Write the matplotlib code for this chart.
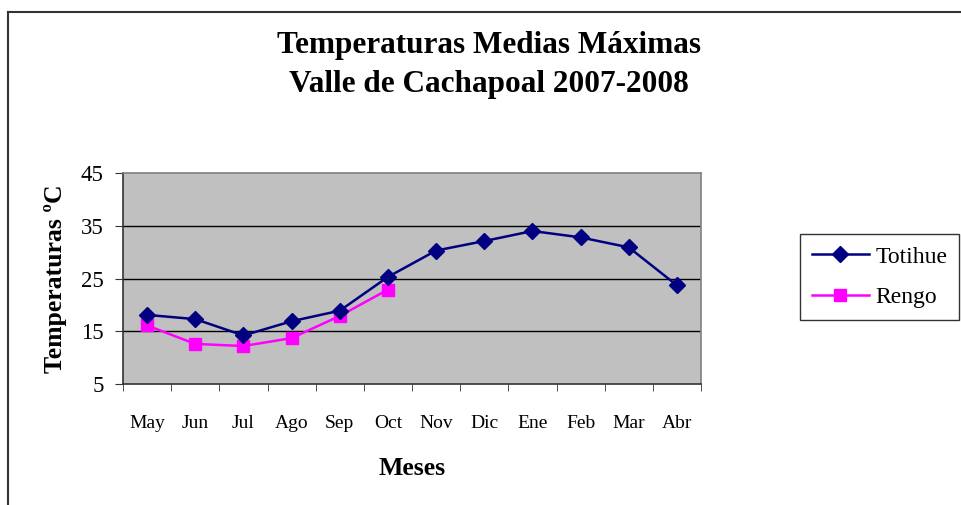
import numpy as np
import matplotlib
matplotlib.use("Agg")
import matplotlib.pyplot as plt
from matplotlib.lines import Line2D

# Data
meses = ["May", "Jun", "Jul", "Ago", "Sep", "Oct", "Nov", "Dic", "Ene", "Feb", "Mar", "Abr"]
totihue = [18.1, 17.3, 14.2, 16.9, 18.9, 25.3, 30.3, 32.1, 34.0, 32.8, 30.9, 23.7]
rengo = [16.1, 12.6, 12.2, 13.7, 17.9, 22.9]
yticks = [5, 15, 25, 35, 45]

serif = "Liberation Serif"

fig = plt.figure(figsize=(9.61, 5.05), dpi=100)
ax = fig.add_axes([0.128, 0.2396, 0.6015, 0.4178])
ax.set_facecolor("#c0c0c0")

x = np.arange(len(meses))
ax.plot(x, totihue, color="#000080", marker="D", markersize=8, lw=1.8, label="Totihue", zorder=4)
ax.plot(x[:len(rengo)], rengo, color="#ff00ff", marker="s", markersize=9, lw=1.8, label="Rengo", zorder=3)

ax.set_xlim(-0.5, len(meses) - 0.5)
ax.set_ylim(5, 45)
ax.set_yticks(yticks)
ax.set_yticklabels([str(v) for v in yticks], fontfamily=serif, fontsize=16.5)
for v in yticks[1:-1]:
    ax.axhline(v, color="black", lw=1, zorder=1)

ax.set_xticks(x)
ax.set_xticklabels(meses, fontfamily=serif, fontsize=14)
ax.set_xticks(np.arange(-0.5, len(meses)), minor=True)
ax.tick_params(axis="x", which="major", length=0, pad=22)
ax.tick_params(axis="x", which="minor", length=5, direction="out", color="#333333")
ax.tick_params(axis="y", length=6, direction="out", color="#333333", pad=8)

for s in ["left", "bottom"]:
    ax.spines[s].set_color("#333333")
    ax.spines[s].set_linewidth(1.2)
for s in ["top", "right"]:
    ax.spines[s].set_color("#808080")
    ax.spines[s].set_linewidth(1.2)

ax.set_xlabel("Meses", fontfamily=serif, fontsize=18.5, fontweight="bold", labelpad=18)
ax.set_ylabel("Temperaturas ºC", fontfamily=serif, fontsize=18.5, fontweight="bold", labelpad=10)

fig.text(0.509, 0.91, "Temperaturas Medias Máximas", ha="center", va="center",
         fontfamily=serif, fontsize=22.5, fontweight="bold")
fig.text(0.509, 0.833, "Valle de Cachapoal 2007-2008", ha="center", va="center",
         fontfamily=serif, fontsize=22.5, fontweight="bold")

leg = ax.legend(loc="center left", bbox_to_anchor=(0.8325, 0.4515), bbox_transform=fig.transFigure,
                frameon=True, fancybox=False, prop={"family": serif, "size": 17},
                handlelength=2.4, handletextpad=0.3, borderpad=0.5, labelspacing=0.8,
                borderaxespad=0)
leg.get_frame().set_edgecolor("black")
leg.get_frame().set_linewidth(1)

# chart area border (left and top edges visible)
fig.add_artist(Line2D([8 / 961, 8 / 961], [0, 1 - 12 / 505], color="#333333", lw=1.5))
fig.add_artist(Line2D([8 / 961, 1], [1 - 12 / 505, 1 - 12 / 505], color="#333333", lw=1.5))

fig.savefig("out.png", dpi=100)
